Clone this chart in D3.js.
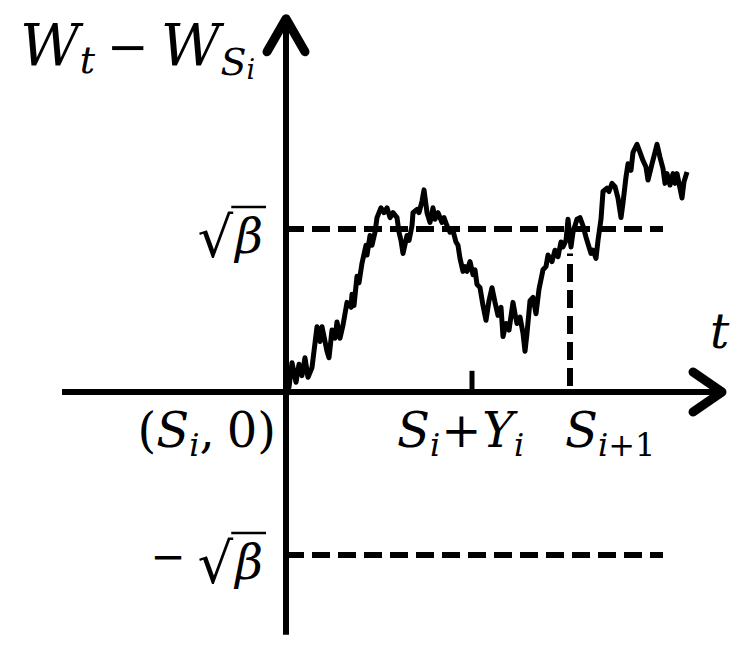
<!DOCTYPE html>
<html>
<head>
<meta charset="utf-8">
<script src="https://cdn.jsdelivr.net/npm/d3@7"></script>
<style>
  body { margin: 0; background: #fff; }
  .math { font-family: "DejaVu Serif", serif; fill: #000; }
</style>
</head>
<body>
<svg id="chart" width="748" height="651"></svg>
<script>
// time steps after S_i (S_i = 0)
const stepT = [0, 2, 3, 6, 10, 13, 16, 19, 22, 26, 31, 34, 36, 41, 43, 46, 49, 51, 54, 57,
  61, 65, 66, 68, 71, 73, 76, 80, 81, 84, 86, 89, 91, 95, 98, 101, 104, 107, 111, 113,
  115, 117, 121, 123, 126, 127, 131, 133, 136, 138, 141, 144, 147, 149, 152, 156, 158, 161, 164, 167,
  170, 172, 174, 177, 179, 181, 184, 187, 189, 191, 194, 197, 200, 203, 206, 209, 212, 215, 217, 220,
  223, 227, 229, 231, 234, 237, 239, 241, 244, 247, 250, 253, 257, 260, 262, 266, 269, 272, 275, 277,
  280, 282, 285, 287, 291, 294, 297, 300, 302, 305, 307, 310, 312, 315, 317, 321, 323, 326, 329, 332,
  335, 337, 340, 342, 345, 347, 351, 354, 357, 360, 362, 366, 369, 371, 374, 377, 379, 381, 384, 387,
  389, 391, 394, 396, 398, 401];
// W_t - W_{S_i}, in units of sqrt(beta)
const pathW = [0, 0.02, 0.03, 0.18, 0.06, 0.17, 0.10, 0.21, 0.09, 0.15, 0.40, 0.31, 0.40, 0.25, 0.21, 0.38, 0.33, 0.43, 0.33, 0.41,
  0.55, 0.52, 0.60, 0.53, 0.71, 0.67, 0.79, 0.90, 0.84, 0.96, 0.90, 0.98, 1.07, 1.13, 1.10, 1.13, 1.07, 1.10, 1.07, 0.98,
  0.93, 0.85, 0.96, 0.93, 1.02, 1.10, 1.12, 1.10, 1.17, 1.24, 1.10, 1.04, 1.13, 1.06, 1.10, 1.04, 1.07, 1.02, 0.98, 0.99,
  0.92, 0.90, 0.82, 0.74, 0.77, 0.74, 0.80, 0.72, 0.75, 0.66, 0.64, 0.53, 0.44, 0.56, 0.64, 0.55, 0.47, 0.52, 0.34, 0.42,
  0.38, 0.55, 0.48, 0.42, 0.46, 0.36, 0.25, 0.36, 0.56, 0.58, 0.48, 0.63, 0.75, 0.77, 0.84, 0.80, 0.87, 0.83, 0.92, 0.89,
  0.93, 1.06, 0.89, 0.98, 1.06, 1.07, 1.02, 0.95, 0.91, 0.85, 0.87, 0.82, 0.93, 1.06, 1.23, 1.25, 1.23, 1.28, 1.26, 1.19,
  1.07, 1.16, 1.32, 1.40, 1.36, 1.47, 1.52, 1.47, 1.42, 1.38, 1.30, 1.40, 1.47, 1.52, 1.44, 1.37, 1.28, 1.34, 1.27, 1.34,
  1.28, 1.34, 1.25, 1.19, 1.29, 1.35];
const levels = [1, -1];      // +sqrt(beta), -sqrt(beta)
const hitT = 284;            // S_{i+1} - S_i
const yT = 186;              // Y_i
const tRange = [-224, 436];  // extent of the t axis
const wRange = [-1.49, 2.29]; // extent of the W axis
const dashEnd = 377;

const svg = d3.select('#chart');

const x = d3.scaleLinear().domain([0, hitT]).range([286, 570]);
const y = d3.scaleLinear().domain([0, 1]).range([392, 229]);

// dashed levels
svg.selectAll('.level')
  .data(levels)
  .enter()
  .append('line')
  .attr('x1', x(0))
  .attr('x2', x(dashEnd))
  .attr('y1', d => y(d))
  .attr('y2', d => y(d))
  .attr('stroke', '#000')
  .attr('stroke-width', 6)
  .attr('stroke-dasharray', '18,8');

// vertical dashed line at S_{i+1}
svg.append('line')
  .attr('x1', x(hitT)).attr('x2', x(hitT))
  .attr('y1', y(0) - 6).attr('y2', y(0.85))
  .attr('stroke', '#000')
  .attr('stroke-width', 6)
  .attr('stroke-dasharray', '18,8');

// tick at S_i + Y_i
svg.append('line')
  .attr('x1', x(yT)).attr('x2', x(yT))
  .attr('y1', y(0)).attr('y2', y(0.13))
  .attr('stroke', '#000')
  .attr('stroke-width', 5);

// axes
svg.append('line')
  .attr('x1', x(tRange[0])).attr('x2', x(tRange[1]))
  .attr('y1', y(0)).attr('y2', y(0))
  .attr('stroke', '#000').attr('stroke-width', 6);

svg.append('line')
  .attr('x1', x(0)).attr('x2', x(0))
  .attr('y1', y(wRange[0])).attr('y2', y(wRange[1]))
  .attr('stroke', '#000').attr('stroke-width', 6);

// arrow heads
const tipR = [x(tRange[1]), y(0)];
const tipU = [x(0), y(wRange[1])];
svg.append('path')
  .attr('d', `M${tipR[0] - 29},${tipR[1] - 20}L${tipR[0]},${tipR[1]}L${tipR[0] - 29},${tipR[1] + 20}`)
  .attr('fill', 'none').attr('stroke', '#000').attr('stroke-width', 9)
  .attr('stroke-linecap', 'round').attr('stroke-linejoin', 'round');
svg.append('path')
  .attr('d', `M${tipU[0] - 19},${tipU[1] + 33}L${tipU[0]},${tipU[1]}L${tipU[0] + 19},${tipU[1] + 33}`)
  .attr('fill', 'none').attr('stroke', '#000').attr('stroke-width', 9)
  .attr('stroke-linecap', 'round').attr('stroke-linejoin', 'round');

// brownian path
const pts = stepT.map((t, i) => ({ t, w: pathW[i] }));
const line = d3.line()
  .x(d => x(d.t))
  .y(d => y(d.w));

svg.append('path')
  .datum(pts)
  .attr('fill', 'none')
  .attr('stroke', '#000')
  .attr('stroke-width', 5)
  .attr('stroke-linejoin', 'round')
  .attr('d', line);

// labels
function mathLabel(px, py, parts, anchor) {
  const txt = svg.append('text')
    .attr('class', 'math')
    .attr('x', px).attr('y', py)
    .attr('text-anchor', anchor || 'start');
  let shift = 0;
  parts.forEach(([s, size, sh, it, dx]) => {
    txt.append('tspan')
      .attr('dy', sh - shift)
      .attr('dx', dx || 0)
      .attr('font-size', size)
      .attr('font-style', it ? 'italic' : 'normal')
      .text(s);
    shift = sh;
  });
  return txt;
}

mathLabel(20, 65, [
  ['W', 58, 0, true], ['t', 38, 8, true],
  ['\u2212', 50, -1, false, 12], ['W', 58, 0, true, 12],
  ['S', 38, 10, true], ['i', 27, 14, true]
]);

function sqrtLabel(level, neg) {
  const base = y(level) + 24;
  const parts = [];
  if (neg) parts.push(['\u2212', 42, -8, false, 0]);
  parts.push(['\u221A', 56, 4, false, neg ? 12 : 0]);
  parts.push(['\u03B2', 48, 0, true, 2]);
  const txt = mathLabel(263, base, parts, 'end');
  const spans = txt.selectAll('tspan').nodes();
  const bLen = spans[spans.length - 1].getComputedTextLength();
  svg.append('line')
    .attr('x1', 263 - bLen - 4).attr('x2', 266)
    .attr('y1', base - 46).attr('y2', base - 46)
    .attr('stroke', '#000').attr('stroke-width', 2.5);
}
sqrtLabel(levels[0], false);
sqrtLabel(levels[1], true);

mathLabel(710, 348, [['t', 48, 0, true]]);

mathLabel(276, 447, [
  ['(', 48, 0, false], ['S', 48, 0, true], ['i', 32, 9, true],
  [',', 48, 0, false], ['0)', 48, 0, false, 12]
], 'end');

mathLabel(397, 447, [
  ['S', 48, 0, true], ['i', 32, 9, true], ['+', 48, 0, false, 1],
  ['Y', 48, 0, true, 1], ['i', 32, 9, true]
]);

mathLabel(x(hitT) - 5, 447, [
  ['S', 48, 0, true], ['i', 32, 9, true], ['+1', 32, 9, false]
]);
</script>
</body>
</html>
